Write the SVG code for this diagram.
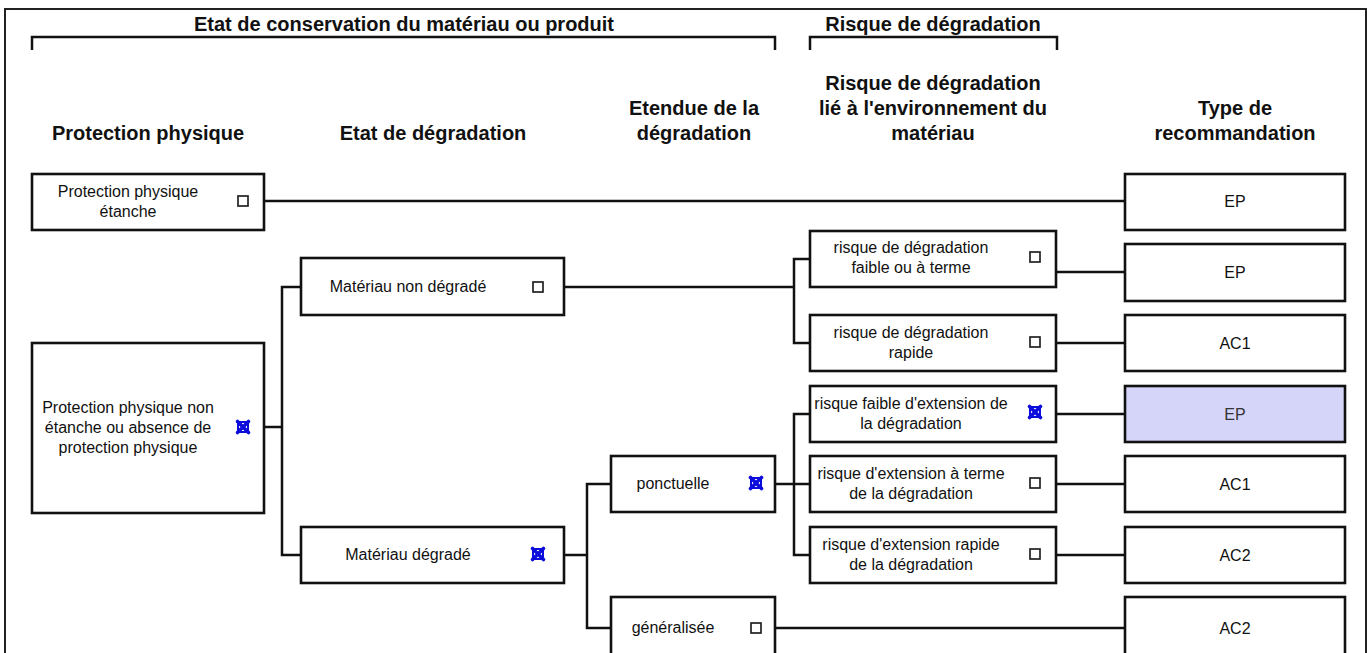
<svg xmlns="http://www.w3.org/2000/svg" width="1372" height="653" viewBox="0 0 1372 653">
<defs>
<style>
.frame{fill:none;stroke:#222;stroke-width:2}
.box{fill:#fff;stroke:#111;stroke-width:2.6}
.hl{fill:#d5d5fa;stroke:#111;stroke-width:2.6}
.ln{fill:none;stroke:#111;stroke-width:2.5}
.hd{font-family:"Liberation Sans",Arial,sans-serif;font-weight:bold;font-size:20px;fill:#111;text-anchor:middle}
.tx{font-family:"Liberation Sans",Arial,sans-serif;font-size:16px;fill:#111;text-anchor:middle}
.cb{fill:#fff;stroke:#222;stroke-width:1.7}
.xm{fill:none;stroke:#0c0cdc;stroke-width:3.6;stroke-linecap:round}
</style>
<g id="chk"><rect class="cb" x="-5" y="-5" width="10" height="10"/></g>
<g id="xchk"><rect x="-5" y="-5" width="10" height="10" fill="none" stroke="#0c0cdc" stroke-width="2"/><path class="xm" d="M-5.5,-5.5 L5.5,5.5 M5.5,-5.5 L-5.5,5.5"/></g>
</defs>
<rect width="1372" height="653" fill="#fff"/>
<path class="frame" d="M5,670 V9 H1366 V670"/>

<g id="headers">
<path class="ln" d="M32,50 V37 H775 V50"/>
<path class="ln" d="M810,50 V37 H1057 V50"/>
<text class="hd" x="404" y="31">Etat de conservation du matériau ou produit</text>
<text class="hd" x="933" y="31">Risque de dégradation</text>
<text class="hd" x="148" y="140">Protection physique</text>
<text class="hd" x="433" y="140">Etat de dégradation</text>
<text class="hd" x="694" y="115">Etendue de la</text>
<text class="hd" x="694" y="140">dégradation</text>
<text class="hd" x="933" y="90">Risque de dégradation</text>
<text class="hd" x="933" y="115">lié à l'environnement du</text>
<text class="hd" x="933" y="140">matériau</text>
<text class="hd" x="1235" y="115">Type de</text>
<text class="hd" x="1235" y="140">recommandation</text>
</g>

<g id="connectors">
<path class="ln" d="M264,201 H1125"/>
<path class="ln" d="M264,427 H282 M301,287 H282 V555 H301"/>
<path class="ln" d="M564,287 H794 M810,259 H794 V343 H810"/>
<path class="ln" d="M564,555 H587 M611,484 H587 V628 H611"/>
<path class="ln" d="M775,484 H810 M810,414 H794 V555 H810"/>
<path class="ln" d="M775,628 H1125"/>
<path class="ln" d="M1056,272 H1125"/>
<path class="ln" d="M1056,343 H1125"/>
<path class="ln" d="M1056,414 H1125"/>
<path class="ln" d="M1056,484 H1125"/>
<path class="ln" d="M1056,555 H1125"/>
</g>

<g id="n-pp-etanche">
<rect class="box" x="32" y="174" width="232" height="56"/>
<text class="tx" x="128" y="197">Protection physique</text>
<text class="tx" x="128" y="217">étanche</text>
<use href="#chk" x="243" y="201"/>
</g>
<g id="n-pp-non-etanche">
<rect class="box" x="32" y="343" width="232" height="170"/>
<text class="tx" x="128" y="413">Protection physique non</text>
<text class="tx" x="128" y="433">étanche ou absence de</text>
<text class="tx" x="128" y="453">protection physique</text>
<use href="#xchk" x="243" y="427"/>
</g>
<g id="n-mat-non-degrade">
<rect class="box" x="301" y="258" width="263" height="57"/>
<text class="tx" x="408" y="292">Matériau non dégradé</text>
<use href="#chk" x="538" y="287"/>
</g>
<g id="n-mat-degrade">
<rect class="box" x="301" y="527" width="263" height="56"/>
<text class="tx" x="408" y="560">Matériau dégradé</text>
<use href="#xchk" x="538" y="554"/>
</g>
<g id="n-ponctuelle">
<rect class="box" x="611" y="456" width="164" height="56"/>
<text class="tx" x="673" y="489">ponctuelle</text>
<use href="#xchk" x="756" y="483"/>
</g>
<g id="n-generalisee">
<rect class="box" x="611" y="597" width="164" height="70"/>
<text class="tx" x="673" y="633">généralisée</text>
<use href="#chk" x="756" y="628"/>
</g>
<g id="n-risque-faible">
<rect class="box" x="810" y="231" width="246" height="56"/>
<text class="tx" x="911" y="253">risque de dégradation</text>
<text class="tx" x="911" y="273">faible ou à terme</text>
<use href="#chk" x="1035" y="257"/>
</g>
<g id="n-risque-rapide">
<rect class="box" x="810" y="315" width="246" height="56"/>
<text class="tx" x="911" y="338">risque de dégradation</text>
<text class="tx" x="911" y="358">rapide</text>
<use href="#chk" x="1035" y="342"/>
</g>
<g id="n-ext-faible">
<rect class="box" x="810" y="386" width="246" height="56"/>
<text class="tx" x="911" y="409">risque faible d'extension de</text>
<text class="tx" x="911" y="429">la dégradation</text>
<use href="#xchk" x="1035" y="412"/>
</g>
<g id="n-ext-terme">
<rect class="box" x="810" y="456" width="246" height="56"/>
<text class="tx" x="911" y="479">risque d'extension à terme</text>
<text class="tx" x="911" y="499">de la dégradation</text>
<use href="#chk" x="1035" y="483"/>
</g>
<g id="n-ext-rapide">
<rect class="box" x="810" y="527" width="246" height="56"/>
<text class="tx" x="911" y="550">risque d'extension rapide</text>
<text class="tx" x="911" y="570">de la dégradation</text>
<use href="#chk" x="1035" y="554"/>
</g>

<g id="r1"><rect class="box" x="1125" y="174" width="220" height="56"/><text class="tx" x="1235" y="207">EP</text></g>
<g id="r2"><rect class="box" x="1125" y="244" width="220" height="57"/><text class="tx" x="1235" y="278">EP</text></g>
<g id="r3"><rect class="box" x="1125" y="315" width="220" height="56"/><text class="tx" x="1235" y="349">AC1</text></g>
<g id="r4"><rect class="hl" x="1125" y="386" width="220" height="56"/><text class="tx" x="1235" y="420" style="fill:#333">EP</text></g>
<g id="r5"><rect class="box" x="1125" y="456" width="220" height="56"/><text class="tx" x="1235" y="490">AC1</text></g>
<g id="r6"><rect class="box" x="1125" y="527" width="220" height="56"/><text class="tx" x="1235" y="561">AC2</text></g>
<g id="r7"><rect class="box" x="1125" y="597" width="220" height="70"/><text class="tx" x="1235" y="634">AC2</text></g>
</svg>
